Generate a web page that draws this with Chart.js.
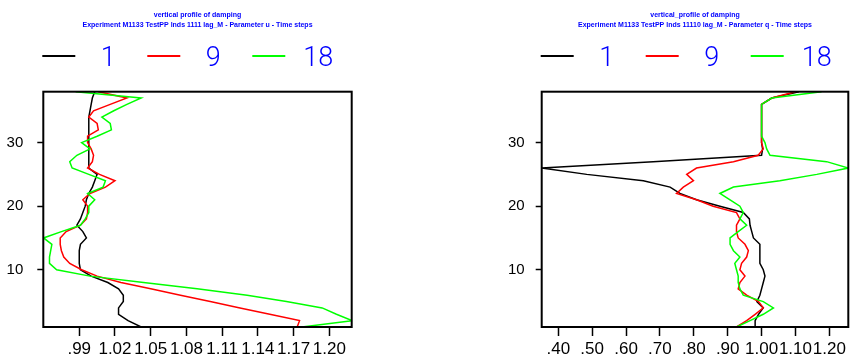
<!DOCTYPE html>
<html><head><meta charset="utf-8">
<script src="https://cdn.jsdelivr.net/npm/chart.js@4/dist/chart.umd.min.js"></script>
<style>
html,body{margin:0;padding:0;background:#fff;overflow:hidden;width:850px;height:356px}
canvas{position:absolute;top:0}
#cl{left:0}
#cr{left:425px}
</style>
</head><body>
<canvas id="cl" width="425" height="356"></canvas>
<canvas id="cr" width="425" height="356"></canvas>
<script>
// ---------- data ----------
const levels = [1,2,3,4,5,6,7,8,9,10,11,12,13,14,15,16,17,18,19,20,21,22,23,24,25,26,27,28,29,30,31,32,33,34,35,36,37,38];
const seriesNames = ['1','9','18'];
const seriesColors = ['#000000','#ff0000','#00ff00'];

const leftBlack = [1.042,1.031,1.023,1.023,1.027,1.027,1.023,1.014,1.000,0.991,0.990,0.990,0.990,0.991,0.996,0.993,0.988,0.991,0.993,0.995,0.996,0.998,1.001,1.003,1.005,0.998,0.998,0.998,0.998,0.998,0.998,0.998,0.998,0.998,0.999,1.000,1.001,1.003];
const leftRed   = [1.173,1.175,1.150,1.125,1.100,1.075,1.050,1.025,1.005,0.992,0.982,0.977,0.975,0.974,0.974,0.979,0.991,0.996,0.997,0.997,0.993,0.999,1.012,1.020,1.007,0.997,1.001,1.002,1.000,0.997,0.997,1.006,1.005,0.998,1.002,1.016,1.030,1.006];
const leftGreen = [1.177,1.219,1.206,1.194,1.164,1.131,1.089,1.044,0.999,0.971,0.965,0.965,0.966,0.967,0.960,0.975,0.991,0.995,0.998,0.998,1.003,0.997,1.010,1.012,0.998,0.984,0.982,0.988,0.999,0.992,1.005,1.017,1.016,1.009,1.019,1.030,1.042,0.987];

const rightBlack = [0.981,0.981,0.991,1.005,0.986,0.995,1.000,1.005,1.010,1.005,0.995,0.995,0.995,0.995,0.976,0.971,0.966,0.964,0.946,0.877,0.808,0.759,0.730,0.651,0.484,0.351,0.680,1.000,1.003,1.000,1.000,1.000,1.000,1.000,1.000,1.000,1.030,1.110];
const rightRed   = [0.926,0.956,0.981,1.005,0.991,0.956,0.931,0.936,0.951,0.936,0.941,0.956,0.961,0.951,0.931,0.926,0.926,0.936,0.926,0.857,0.808,0.749,0.769,0.799,0.779,0.808,0.917,0.990,1.005,1.000,1.000,1.000,1.000,1.000,1.000,1.000,1.030,1.100];
const rightGreen = [0.926,0.966,1.005,1.035,1.005,0.946,0.936,0.931,0.931,0.926,0.921,0.936,0.917,0.907,0.907,0.931,0.956,0.936,0.946,0.936,0.907,0.877,0.917,1.054,1.163,1.256,1.192,1.025,1.015,1.010,1.000,1.000,1.000,1.000,1.000,1.000,1.030,1.177];

const leftXTicks  = [0.99,1.02,1.05,1.08,1.11,1.14,1.17,1.20];
const leftXLabels = ['.99','1.02','1.05','1.08','1.11','1.14','1.17','1.20'];
const rightXTicks  = [0.40,0.50,0.60,0.70,0.80,0.90,1.00,1.10,1.20];
const rightXLabels = ['.40','.50','.60','.70','.80','.90','1.00','1.10','1.20'];
const yTicks = [10,20,30];
const yLabels = ['10','20','30'];

const leftTitle = 'vertical profile of damping';
const leftSubtitle = 'Experiment M1133 TestPP lnds 1111 lag_M - Parameter u - Time steps';
const rightTitle = 'vertical_profile of damping';
const rightSubtitle = 'Experiment M1133 TestPP lnds 11110 lag_M - Parameter q - Time steps';

// ---------- plugins ----------
const framePlugin = {
  id: 'frame',
  afterDatasetsDraw(chart) {
    const a = chart.chartArea, ctx = chart.ctx;
    ctx.save();
    ctx.strokeStyle = '#000';
    ctx.lineWidth = 2;
    ctx.strokeRect(a.left, a.top, a.right - a.left, a.bottom - a.top);
    ctx.restore();
  }
};
const lineLegend = {
  id: 'lineLegend',
  afterDraw(chart) {
    const ctx = chart.ctx, a = chart.chartArea;
    ctx.save();
    chart.data.datasets.forEach((ds, i) => {
      const x0 = a.left - 1 + i * 105;
      const y = 56;
      ctx.strokeStyle = ds.borderColor;
      ctx.lineWidth = 2;
      ctx.beginPath();
      ctx.moveTo(x0, y);
      ctx.lineTo(x0 + 33, y);
      ctx.stroke();
      ctx.fillStyle = '#0000ff';
      ctx.font = '300 27px Roboto, "Liberation Sans", sans-serif';
      ctx.textAlign = 'center';
      ctx.textBaseline = 'alphabetic';
      ctx.fillText(ds.label, x0 + 66, 66);
    });
    ctx.restore();
  }
};

function makeChart(id, vals, xmin, xmax, xTicks, xLabels, yAxisWidth, padRight, title, subtitle, labelPad) {
  const datasets = vals.map((v, i) => ({
    label: seriesNames[i],
    data: v.map((x, k) => ({x: x, y: levels[k]})),
    borderColor: seriesColors[i],
    backgroundColor: seriesColors[i],
    borderWidth: 1.5,
    pointRadius: 0,
    showLine: true,
    tension: 0,
    order: 2 - i
  }));
  return new Chart(document.getElementById(id), {
    type: 'scatter',
    data: {datasets},
    plugins: [framePlugin, lineLegend],
    options: {
      responsive: false,
      devicePixelRatio: 1,
      animation: false,
      layout: {padding: {left: 0, right: padRight, top: 0, bottom: 0}},
      plugins: {
        legend: {display: false},
        tooltip: {enabled: false},
        title: {display: true, text: title, fullSize: false, color: '#0000ff',
          font: {size: 7, weight: 'bold', family: '"Liberation Sans", Arial, sans-serif'},
          padding: {top: 10.8, bottom: 0}},
        subtitle: {display: true, text: subtitle, fullSize: false, color: '#0000ff',
          font: {size: 7, weight: 'bold', family: '"Liberation Sans", Arial, sans-serif'},
          padding: {top: 1.6, bottom: 62.5}}
      },
      scales: {
        x: {
          type: 'linear', min: xmin, max: xmax,
          afterBuildTicks: s => { s.ticks = xTicks.map(v => ({value: v})); },
          afterFit: s => { s.height = 29; },
          ticks: {
            autoSkip: false, maxRotation: 0, minRotation: 0, padding: 3,
            color: '#000', font: {size: 17, family: '"Liberation Sans", Arial, sans-serif'},
            callback: (v, i) => xLabels[i]
          },
          grid: {display: true, drawOnChartArea: false, drawTicks: true, tickLength: 9, tickColor: '#000', tickWidth: 1.5},
          border: {display: false}
        },
        y: {
          type: 'linear', min: 1, max: 38,
          afterBuildTicks: s => { s.ticks = yTicks.map(v => ({value: v})); },
          afterFit: s => { s.width = yAxisWidth; },
          ticks: {
            padding: labelPad, color: '#000',
            font: {size: 15, family: '"Liberation Sans", Arial, sans-serif'},
            callback: (v, i) => yLabels[i]
          },
          grid: {display: true, drawOnChartArea: false, drawTicks: true, tickLength: 6, tickColor: '#000', tickWidth: 1.5},
          border: {display: false}
        }
      }
    }
  });
}

makeChart('cl', [leftBlack, leftRed, leftGreen], 0.9598, 1.2188, leftXTicks, leftXLabels, 43.3, 73.3, leftTitle, leftSubtitle, 14);
makeChart('cr', [rightBlack, rightRed, rightGreen], 0.351, 1.256, rightXTicks, rightXLabels, 116.7, 1.7, rightTitle, rightSubtitle, 11);
</script>
</body></html>
